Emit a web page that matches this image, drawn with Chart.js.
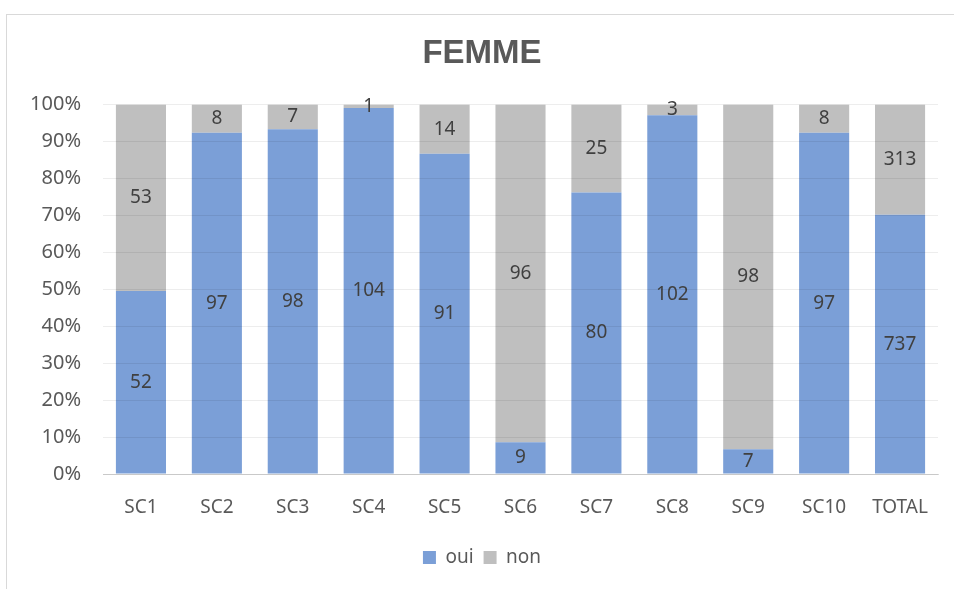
<!DOCTYPE html>
<html>
<head>
<meta charset="utf-8">
<script src="https://cdn.jsdelivr.net/npm/chart.js@4"></script>
<style>
  html, body { margin: 0; padding: 0; background: #fff; overflow: hidden; }
  #cadre { position: absolute; left: 6px; top: 14px; width: 1000px; height: 700px;
           border-top: 1px solid #d9d9d9; border-left: 1px solid #d9d9d9; }
  #zone { position: absolute; left: 0; top: 0; width: 978px; height: 589px; }
</style>
</head>
<body>
<div id="cadre"></div>
<div id="zone"><canvas id="grafico"></canvas></div>
<script>
const categorias = ['SC1', 'SC2', 'SC3', 'SC4', 'SC5', 'SC6', 'SC7', 'SC8', 'SC9', 'SC10', 'TOTAL'];
const oui = [52, 97, 98, 104, 91, 9, 80, 102, 7, 97, 737];
const non = [53, 8, 7, 1, 14, 96, 25, 3, 98, 8, 313];

const fonte = '"Noto Sans", "Open Sans", sans-serif';

// 100 % empilé : on convertit les effectifs en pourcentages
const pct = (serie, i) => serie[i] * 100 / (oui[i] + non[i]);
const ouiPct = oui.map((v, i) => pct(oui, i));
const nonPct = non.map((v, i) => pct(non, i));

const etiquettes = {
  id: 'etiquettes',
  afterDatasetsDraw(chart) {
    const ctx = chart.ctx;
    ctx.save();
    ctx.font = '19px ' + fonte;
    ctx.fillStyle = '#404040';
    ctx.textAlign = 'center';
    ctx.textBaseline = 'middle';
    chart.data.datasets.forEach((ds, d) => {
      chart.getDatasetMeta(d).data.forEach((bar, i) => {
        const y = (bar.y + bar.base) / 2;
        ctx.fillText(ds.comptes[i], bar.x, y);
      });
    });
    ctx.restore();
  }
};

new Chart(document.getElementById('grafico'), {
  type: 'bar',
  data: {
    labels: categorias,
    datasets: [
      { label: 'oui', data: ouiPct, comptes: oui, backgroundColor: '#7b9fd7' },
      { label: 'non', data: nonPct, comptes: non, backgroundColor: '#bfbfbf' }
    ]
  },
  options: {
    responsive: true,
    maintainAspectRatio: false,
    animation: false,
    layout: { padding: { left: 26, right: 40, top: 34, bottom: 12 } },
    datasets: { bar: { barPercentage: 0.66, categoryPercentage: 1 } },
    scales: {
      x: {
        stacked: true,
        afterFit(scale) { scale.height = 64; },
        grid: { display: false },
        border: { color: '#d9d9d9' },
        ticks: { color: '#595959', font: { family: fonte, size: 19 }, padding: 14 }
      },
      y: {
        stacked: true,
        min: 0,
        max: 100,
        afterFit(scale) { scale.width = 77; },
        grid: { color: 'rgba(0,0,0,0.07)', z: 1, drawTicks: false },
        border: { display: false },
        ticks: {
          stepSize: 10,
          color: '#595959',
          padding: 22,
          font: { family: fonte, size: 20 },
          callback: (v) => v + '%'
        }
      }
    },
    plugins: {
      title: {
        display: true,
        text: 'FEMME',
        color: '#595959',
        font: { family: '"Liberation Sans Narrow", "Liberation Sans", sans-serif', size: 33, weight: 'bold' },
        padding: { top: 0, bottom: 31 }
      },
      legend: {
        position: 'bottom',
        labels: {
          color: '#595959',
          font: { family: fonte, size: 19 },
          boxWidth: 13,
          boxHeight: 13,
          padding: 10
        }
      },
      tooltip: { enabled: false }
    }
  },
  plugins: [etiquettes]
});
</script>
</body>
</html>
